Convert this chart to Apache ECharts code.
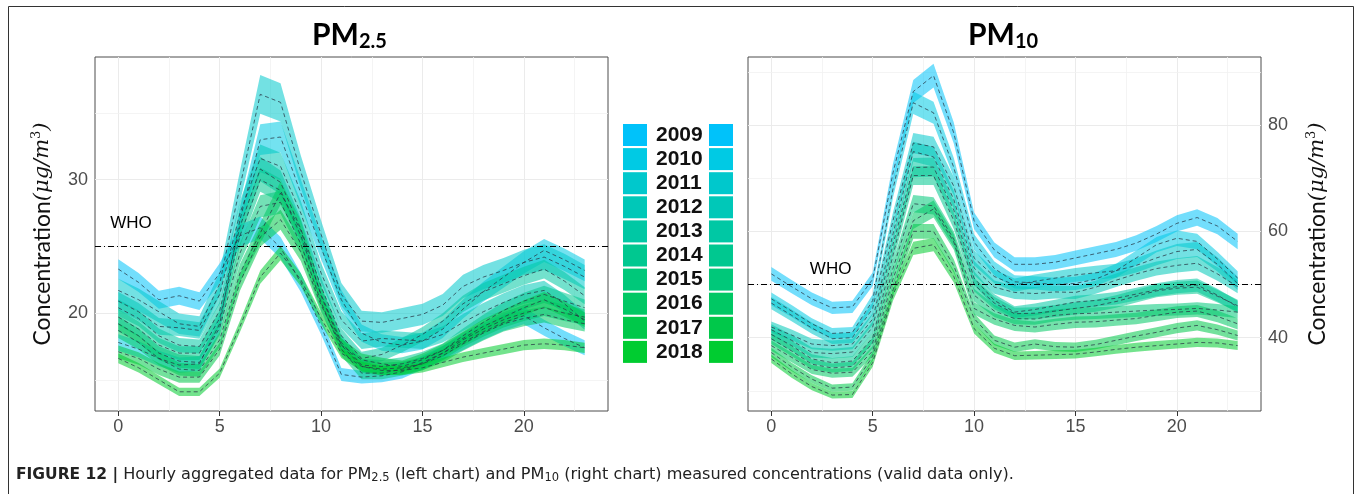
<!DOCTYPE html>
<html lang="en">
<head>
<meta charset="UTF-8">
<title>PM hourly</title>
<script src="https://cdn.jsdelivr.net/npm/echarts@6.0.0/dist/echarts.min.js"></script>
<style>
    html, body { margin: 0; padding: 0; background: #fff; }
    #chart { width: 1357px; height: 494px; }
</style>
</head>
<body>
<div id="chart"></div>
<script>
    var hours = [0,1,2,3,4,5,6,7,8,9,10,11,12,13,14,15,16,17,18,19,20,21,22,23];
    var years = ['2009','2010','2011','2012','2013','2014','2015','2016','2017','2018'];
    var yearColors = ['#00c2fa','#00cae4','#00c8cc','#00c8b8','#00c8a4','#00c890','#00c87a','#00c864','#00c84a','#00cc30'];

    // PM2.5 hourly means
    var pm25_2009 = [23.3,22.3,21.0,21.3,20.9,23.0,25.8,26.4,24.9,22.3,19.0,15.4,15.2,15.3,15.6,16.3,17.0,17.8,18.6,19.3,19.8,18.9,18.1,17.4];
    var pm25_2010 = [17.8,17.3,16.6,16.1,16.2,19.2,27.0,33.0,33.2,29.0,24.9,21.0,18.5,17.8,17.6,17.9,18.8,20.3,21.6,22.7,23.8,24.7,24.0,23.2];
    var pm25_2011 = [21.7,21.0,20.1,19.2,19.0,22.2,29.5,36.4,35.8,30.6,25.9,21.4,19.4,19.3,19.6,19.9,20.6,22.0,22.7,23.2,23.8,24.2,23.5,22.7];
    var pm25_2012 = [20.9,20.1,19.0,18.9,18.7,21.4,27.5,31.6,31.0,27.5,23.0,19.5,17.9,18.1,18.0,17.9,18.4,19.3,20.1,20.8,21.4,21.7,20.7,19.4];
    var pm25_2013 = [20.4,19.6,18.3,17.6,17.5,20.2,26.5,30.8,29.8,26.3,22.0,18.3,16.6,16.9,17.6,18.4,19.4,20.7,21.6,22.2,22.8,23.3,22.4,21.3];
    var pm25_2014 = [19.7,18.8,17.6,17.0,17.0,19.6,25.8,30.0,29.2,25.8,21.4,17.8,16.1,16.0,16.2,16.6,17.2,18.3,19.3,20.2,20.9,21.4,20.9,20.4];
    var pm25_2015 = [19.2,18.3,17.0,16.4,16.3,18.9,24.5,28.0,28.3,25.2,20.8,17.3,15.5,15.5,15.8,16.2,17.0,18.0,18.8,19.5,20.0,20.4,20.0,19.7];
    var pm25_2016 = [18.7,17.8,16.6,15.8,15.7,18.0,23.0,26.0,29.0,26.2,21.3,17.6,16.0,15.8,15.9,16.2,16.8,17.7,18.5,19.2,19.6,19.9,19.5,19.2];
    var pm25_2017 = [17.1,16.6,15.8,15.2,15.2,17.3,22.3,25.7,27.0,24.6,20.6,17.6,16.5,16.2,16.0,16.5,17.2,18.1,19.0,19.7,20.4,21.0,20.3,19.5];
    var pm25_2018 = [16.6,15.9,15.0,14.1,14.1,15.5,19.0,22.7,24.5,22.5,19.6,17.0,16.0,15.7,15.7,15.9,16.3,16.7,17.0,17.3,17.6,17.7,17.6,17.4];

    // PM10 hourly means
    var pm10_2009 = [52.0,49.6,47.3,45.6,45.8,51.0,71.0,86.3,89.3,78.5,62.0,56.5,53.8,53.8,54.2,55.0,55.8,56.6,57.8,59.5,61.5,62.6,61.0,58.1];
    var pm10_2010 = [47.3,45.0,42.6,40.8,41.0,47.0,68.0,84.2,82.3,72.0,58.0,53.0,50.5,50.3,50.0,50.2,51.0,52.6,55.0,57.5,58.7,58.1,54.8,51.2];
    var pm10_2011 = [46.5,44.2,41.8,39.8,40.0,45.5,62.0,76.6,75.9,68.5,55.0,51.5,49.9,50.6,51.2,51.8,52.2,52.6,53.6,55.0,56.2,56.6,53.8,50.2];
    var pm10_2012 = [42.0,40.5,38.8,38.5,38.8,43.5,59.5,75.0,74.0,66.0,53.1,49.5,48.5,48.3,48.6,48.5,49.5,50.8,52.0,53.0,53.6,54.0,52.0,49.6];
    var pm10_2013 = [41.5,39.5,37.2,37.0,37.3,42.0,57.5,72.0,72.1,64.0,51.2,47.0,44.8,45.3,46.0,46.7,47.0,47.4,48.2,49.0,49.6,49.9,48.0,45.8];
    var pm10_2014 = [40.6,38.5,36.0,35.3,35.6,40.0,55.5,70.5,70.5,62.0,50.0,46.5,44.5,44.6,45.0,45.5,46.0,46.8,47.8,48.8,49.3,49.5,47.8,46.0];
    var pm10_2015 = [39.8,37.5,35.0,34.3,34.6,39.0,53.0,65.2,64.8,58.5,48.0,45.0,43.6,43.5,44.2,44.5,44.6,44.8,45.0,45.2,45.3,45.5,45.2,44.8];
    var pm10_2016 = [38.5,36.3,34.0,33.3,33.5,37.5,51.0,62.0,64.2,58.0,45.5,43.5,42.3,42.0,42.5,42.9,43.0,43.3,43.6,44.2,44.8,45.0,44.0,42.6];
    var pm10_2017 = [37.2,34.5,32.2,30.5,30.7,36.5,49.0,60.0,60.0,53.5,43.6,39.5,38.2,38.8,38.3,38.2,38.7,39.5,40.3,41.0,41.8,42.3,41.5,40.4];
    var pm10_2018 = [36.0,33.2,30.8,29.2,29.3,35.3,48.0,56.8,57.5,51.5,41.7,38.0,36.6,36.7,36.8,36.9,37.3,37.8,38.2,38.5,38.8,39.1,39.0,38.5];

    // relative half-width of the confidence band, per year
    var band25 = [0.032,0.035,0.04,0.033,0.03,0.03,0.03,0.03,0.028,0.022];
    var band10 = [0.025,0.025,0.025,0.025,0.025,0.025,0.025,0.025,0.023,0.022];

    var who25 = 25, who10 = 50;
    var xTicks = [0,5,10,15,20];
    var xMinor = [2.5,7.5,12.5,17.5,22.5];
    var yTicks25 = [20,30], yMinor25 = [15,25,35];
    var yTicks10 = [40,60,80], yMinor10 = [30,50,70,90];

    var pm25 = [pm25_2009,pm25_2010,pm25_2011,pm25_2012,pm25_2013,pm25_2014,pm25_2015,pm25_2016,pm25_2017,pm25_2018];
    var pm10 = [pm10_2009,pm10_2010,pm10_2011,pm10_2012,pm10_2013,pm10_2014,pm10_2015,pm10_2016,pm10_2017,pm10_2018];

    var chart = echarts.init(document.getElementById('chart'));
    var gridLine = {color: '#ebebeb', width: 1, type: 'solid'};
    var minorLine = {color: '#f1f1f1', width: 0.8, type: 'solid'};

    // 置信带: 上下界围成一个多边形
    function bandRender(vals, p, color) {
        return function (params, api) {
            if (params.dataIndex !== 0) return null;
            var up = [], lo = [];
            for (var k = 0; k < hours.length; k++) {
                up.push(api.coord([hours[k], vals[k] * (1 + p)]));
                lo.unshift(api.coord([hours[k], vals[k] * (1 - p)]));
            }
            return {type: 'polygon', shape: {points: up.concat(lo)}, style: {fill: color, opacity: 0.55}};
        };
    }

    function gridSeries(g, yMajor, yMinor) {
        var lines = [];
        xTicks.forEach(function (v) { lines.push({xAxis: v, lineStyle: gridLine}); });
        xMinor.forEach(function (v) { lines.push({xAxis: v, lineStyle: minorLine}); });
        yMajor.forEach(function (v) { lines.push({yAxis: v, lineStyle: gridLine}); });
        yMinor.forEach(function (v) { lines.push({yAxis: v, lineStyle: minorLine}); });
        return {
            type: 'line', xAxisIndex: g, yAxisIndex: g, data: [], silent: true, z: 1,
            markLine: {symbol: 'none', silent: true, z: 1, label: {show: false},
                lineStyle: {type: 'solid'}, emphasis: {disabled: true}, data: lines, animation: false}
        };
    }

    function whoSeries(g, who, labelAt) {
        return {
            type: 'line', xAxisIndex: g, yAxisIndex: g, data: [], silent: true, z: 6,
            markLine: {
                symbol: 'none', silent: true, z: 6, label: {show: false},
                lineStyle: {color: '#000', width: 1, type: [6, 3, 1, 3]},
                data: [{yAxis: who}]
            },
            markPoint: {
                symbol: 'circle', symbolSize: 0, silent: true, z: 6,
                label: {show: true, position: 'right', distance: 0, formatter: 'WHO', color: '#000',
                    fontFamily: 'Liberation Sans', fontSize: 17},
                data: [{coord: labelAt}]
            }
        };
    }

    var series = [gridSeries(0, yTicks25, yMinor25), gridSeries(1, yTicks10, yMinor10)];
    [pm25, pm10].forEach(function (set, g) {
        var bands = g === 0 ? band25 : band10;
        set.forEach(function (vals, i) {
            var pts = hours.map(function (h, k) { return [h, vals[k]]; });
            series.push({
                name: years[i], type: 'custom', xAxisIndex: g, yAxisIndex: g, z: 2,
                silent: true, data: pts, renderItem: bandRender(vals, bands[i], yearColors[i])
            });
            series.push({
                name: years[i], type: 'line', xAxisIndex: g, yAxisIndex: g, z: 3,
                silent: true, data: pts, symbol: 'none', showSymbol: false,
                lineStyle: {color: 'rgba(40,55,70,0.75)', width: 1, type: [4, 3]}
            });
        });
    });
    series.push(whoSeries(0, who25, [-0.4, 26.7]));
    series.push(whoSeries(1, who10, [1.9, 52.9]));

    var legendData = years.map(function (y, i) {
        return {name: y, itemStyle: {color: yearColors[i], opacity: 1}};
    });

    var tickLabel = {color: '#4d4d4d', fontFamily: 'Liberation Sans', fontSize: 18};
    var nameRich = {
        a: {fontFamily: 'Lato', fontSize: 23, color: '#111'},
        b: {fontFamily: 'DejaVu Serif', fontStyle: 'italic', fontSize: 21, color: '#111'},
        c: {fontFamily: 'DejaVu Serif', fontSize: 13, color: '#111', verticalAlign: 'bottom', padding: [0, 0, 12, 0]}
    };
    var axisName = '{a|Concentration}{b|(μg/m}{c|3}{b|)}';

    var titleRich = {
        m: {fontFamily: 'Lato', fontWeight: 'bold', fontSize: 30, color: '#000', lineHeight: 34},
        s: {fontFamily: 'Lato', fontWeight: 'bold', fontSize: 20, color: '#000', verticalAlign: 'bottom', lineHeight: 14}
    };

    function xAxisOf(g) {
        return {
            gridIndex: g, type: 'value', min: -1.15, max: 24.15,
            axisLine: {show: false},
            axisTick: {show: true, customValues: xTicks, length: 5, lineStyle: {color: '#333'}},
            axisLabel: Object.assign({customValues: xTicks, margin: 7}, tickLabel),
            splitLine: {show: false}
        };
    }

    var option = {
        animation: false,
        backgroundColor: '#fff',
        title: [
            {left: 312, top: 18, padding: 0, text: '{m|PM}{s|2.5}', textStyle: {rich: titleRich}},
            {left: 968, top: 18, padding: 0, text: '{m|PM}{s|10}', textStyle: {rich: titleRich}},
            {left: 16, top: 466, padding: 0,
                text: '{b|FIGURE 12 |} {n|Hourly aggregated data for PM}{s|2.5}{n| (left chart) and PM}{s|10}{n| (right chart) measured concentrations (valid data only).}',
                textStyle: {fontWeight: 'normal', rich: {
                    b: {fontFamily: 'DejaVu Sans', fontWeight: 'bold', fontSize: 15.5, color: '#222'},
                    n: {fontFamily: 'DejaVu Sans', fontWeight: 'normal', fontSize: 16.1, color: '#222'},
                    s: {fontFamily: 'DejaVu Sans', fontWeight: 'normal', fontSize: 11.5, color: '#222', verticalAlign: 'bottom', padding: [6, 0, 0, 0]}
                }}}
        ],
        legend: [
            {data: legendData, orient: 'vertical', left: 623, top: 124, padding: 0,
                itemWidth: 24, itemHeight: 22, itemGap: 2.1, icon: 'rect', selectedMode: false,
                textStyle: {fontFamily: 'Liberation Sans', fontWeight: 'bold', fontSize: 21, color: '#111', padding: [0, 0, 0, 4]}},
            {data: legendData, orient: 'vertical', left: 709, top: 124, padding: 0,
                itemWidth: 24, itemHeight: 22, itemGap: 2.1, icon: 'rect', selectedMode: false,
                formatter: function () { return ''; }}
        ],
        grid: [
            {left: 95, top: 57, width: 513, height: 354, show: true, borderColor: '#4d4d4d', borderWidth: 1, backgroundColor: 'transparent'},
            {left: 748, top: 57, width: 513, height: 354, show: true, borderColor: '#4d4d4d', borderWidth: 1, backgroundColor: 'transparent'}
        ],
        xAxis: [xAxisOf(0), xAxisOf(1)],
        yAxis: [
            {gridIndex: 0, type: 'value', min: 12.66, max: 39.2,
                axisLine: {show: false},
                axisTick: {show: true, customValues: yTicks25, length: 5, lineStyle: {color: '#333'}},
                axisLabel: Object.assign({customValues: yTicks25, margin: 7}, tickLabel),
                splitLine: {show: false},
                name: axisName, nameLocation: 'middle', nameRotate: 90, nameGap: 40,
                nameTextStyle: {rich: nameRich}},
            {gridIndex: 1, type: 'value', position: 'right', min: 26.2, max: 92.8,
                axisLine: {show: false},
                axisTick: {show: true, customValues: yTicks10, length: 5, lineStyle: {color: '#333'}},
                axisLabel: Object.assign({customValues: yTicks10, margin: 7}, tickLabel),
                splitLine: {show: false},
                name: axisName, nameLocation: 'middle', nameRotate: 90, nameGap: 44,
                nameTextStyle: {rich: nameRich}}
        ],
        graphic: [
            {type: 'rect', silent: true, z: 0,
                shape: {x: 8.5, y: 6.5, width: 1345, height: 510},
                style: {fill: null, stroke: '#333', lineWidth: 1}}
        ],
        series: series
    };
    chart.setOption(option);
</script>
</body>
</html>
